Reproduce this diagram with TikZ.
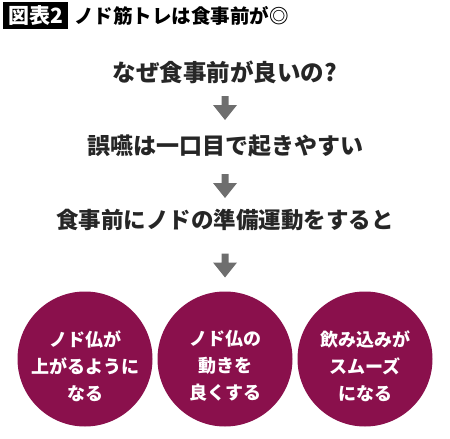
\documentclass[tikz,border=0pt]{standalone}
\usepackage{fontspec}
\newfontfamily\cjk{Noto Sans CJK JP}
\definecolor{wine}{RGB}{138,16,76}
\definecolor{arrowgray}{RGB}{110,110,110}
\begin{document}
\begin{tikzpicture}[x=1pt,y=-1pt,
  line/.style={font=\cjk\bfseries\fontsize{22.5}{26}\selectfont, text=black!85, inner sep=0},
  bubble/.style={circle, fill=wine, minimum size=135pt, inner sep=0},
  bubbletext/.style={font=\cjk\bfseries\fontsize{18}{27}\selectfont, text=white, align=center, inner sep=0},
  downarrow/.pic={\fill[arrowgray] (-3.5,-12) -- (3.5,-12) -- (3.5,-3) -- (12,-3) -- (0,12) -- (-12,-3) -- (-3.5,-3) -- cycle;}
]
\useasboundingbox (0,0) rectangle (450,439);
% title
\node[fill=black, text=white, font=\cjk\bfseries\fontsize{21}{24}\selectfont, inner xsep=5pt, inner ysep=2pt, minimum height=27pt, anchor=west] (tag) at (3,15.5) {図表2};
\node[font=\cjk\bfseries\fontsize{19.5}{22}\selectfont, anchor=west, inner sep=0] (title) at (74,16) {ノド筋トレは食事前が◎};
% flow
\node[line, font=\cjk\bfseries\fontsize{23.5}{26}\selectfont] (q) at (225,72) {なぜ食事前が良いの?};
\node[line, font=\cjk\bfseries\fontsize{23}{26}\selectfont] (l2) at (225,146) {誤嚥は一口目で起きやすい};
\node[line] (l3) at (225,220) {食事前にノドの準備運動をすると};
\pic at (225,108) {downarrow};
\pic at (225,186) {downarrow};
\pic at (225,265.5) {downarrow};
% bubbles
\node[bubble] (c1) at (85,359) {};
\node[bubble] (c2) at (225,359) {};
\node[bubble] (c3) at (365,359) {};
\node[bubbletext] (t1) at (85,366) {ノド仏が\\上がるように\\なる};
\node[bubbletext] (t2) at (225,366) {ノド仏の\\動きを\\良くする};
\node[bubbletext] (t3) at (365,366) {飲み込みが\\スムーズ\\になる};
\end{tikzpicture}
\end{document}
